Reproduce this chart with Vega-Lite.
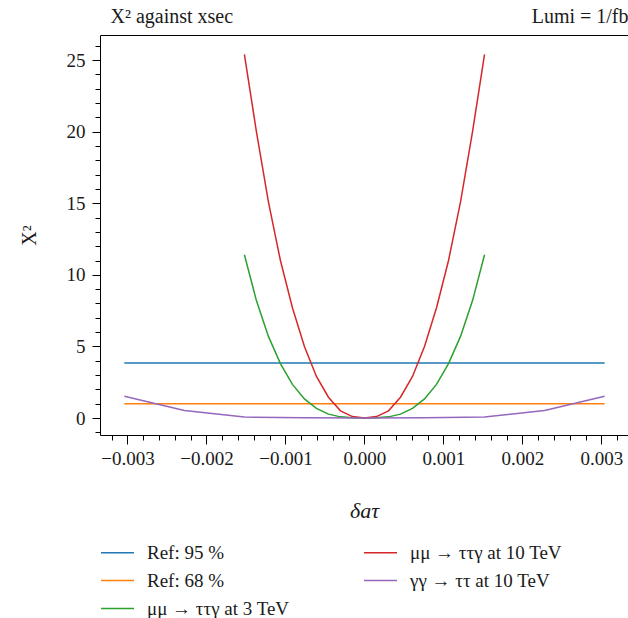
{
  "$schema": "https://vega.github.io/schema/vega-lite/v6.json",
  "width": 528,
  "height": 400,
  "autosize": {"type": "none"},
  "padding": {"left": 100, "top": 35, "right": 0, "bottom": 183},
  "background": "white",
  "config": {
    "font": "Liberation Serif",
    "view": {"stroke": null},
    "axis": {
      "grid": false,
      "domainColor": "#000000",
      "domainWidth": 1,
      "tickColor": "#000000",
      "tickWidth": 1,
      "labelColor": "#1a1a1a",
      "titleColor": "#1a1a1a",
      "labelFont": "Liberation Serif",
      "titleFont": "Liberation Serif",
      "labelFontSize": 19,
      "titleFontSize": 20,
      "titleFontWeight": "normal"
    },
    "legend": {"labelFont": "Liberation Serif", "labelColor": "#1a1a1a"}
  },
  "data": {
    "values": [
      {"series": "Ref: 95 %", "d": -0.00304, "chi2": 3.84},
      {"series": "Ref: 95 %", "d": 0.00304, "chi2": 3.84},
      {"series": "Ref: 68 %", "d": -0.00304, "chi2": 1.0},
      {"series": "Ref: 68 %", "d": 0.00304, "chi2": 1.0},
      {"series": "μμ → ττγ at 3 TeV", "d": -0.00152, "chi2": 11.4},
      {"series": "μμ → ττγ at 3 TeV", "d": -0.001368, "chi2": 8.2},
      {"series": "μμ → ττγ at 3 TeV", "d": -0.001216, "chi2": 5.7},
      {"series": "μμ → ττγ at 3 TeV", "d": -0.001064, "chi2": 3.8},
      {"series": "μμ → ττγ at 3 TeV", "d": -0.000912, "chi2": 2.35},
      {"series": "μμ → ττγ at 3 TeV", "d": -0.00076, "chi2": 1.33},
      {"series": "μμ → ττγ at 3 TeV", "d": -0.000608, "chi2": 0.67},
      {"series": "μμ → ττγ at 3 TeV", "d": -0.000456, "chi2": 0.27},
      {"series": "μμ → ττγ at 3 TeV", "d": -0.000304, "chi2": 0.08},
      {"series": "μμ → ττγ at 3 TeV", "d": -0.000152, "chi2": 0.01},
      {"series": "μμ → ττγ at 3 TeV", "d": 0.0, "chi2": 0.0},
      {"series": "μμ → ττγ at 3 TeV", "d": 0.000152, "chi2": 0.01},
      {"series": "μμ → ττγ at 3 TeV", "d": 0.000304, "chi2": 0.08},
      {"series": "μμ → ττγ at 3 TeV", "d": 0.000456, "chi2": 0.27},
      {"series": "μμ → ττγ at 3 TeV", "d": 0.000608, "chi2": 0.67},
      {"series": "μμ → ττγ at 3 TeV", "d": 0.00076, "chi2": 1.33},
      {"series": "μμ → ττγ at 3 TeV", "d": 0.000912, "chi2": 2.35},
      {"series": "μμ → ττγ at 3 TeV", "d": 0.001064, "chi2": 3.8},
      {"series": "μμ → ττγ at 3 TeV", "d": 0.001216, "chi2": 5.7},
      {"series": "μμ → ττγ at 3 TeV", "d": 0.001368, "chi2": 8.2},
      {"series": "μμ → ττγ at 3 TeV", "d": 0.00152, "chi2": 11.4},
      {"series": "μμ → ττγ at 10 TeV", "d": -0.00152, "chi2": 25.4},
      {"series": "μμ → ττγ at 10 TeV", "d": -0.001368, "chi2": 20.0},
      {"series": "μμ → ττγ at 10 TeV", "d": -0.001216, "chi2": 15.1},
      {"series": "μμ → ττγ at 10 TeV", "d": -0.001064, "chi2": 11.0},
      {"series": "μμ → ττγ at 10 TeV", "d": -0.000912, "chi2": 7.7},
      {"series": "μμ → ττγ at 10 TeV", "d": -0.00076, "chi2": 5.0},
      {"series": "μμ → ττγ at 10 TeV", "d": -0.000608, "chi2": 2.9},
      {"series": "μμ → ττγ at 10 TeV", "d": -0.000456, "chi2": 1.45},
      {"series": "μμ → ττγ at 10 TeV", "d": -0.000304, "chi2": 0.5},
      {"series": "μμ → ττγ at 10 TeV", "d": -0.000152, "chi2": 0.1},
      {"series": "μμ → ττγ at 10 TeV", "d": 0.0, "chi2": 0.0},
      {"series": "μμ → ττγ at 10 TeV", "d": 0.000152, "chi2": 0.1},
      {"series": "μμ → ττγ at 10 TeV", "d": 0.000304, "chi2": 0.5},
      {"series": "μμ → ττγ at 10 TeV", "d": 0.000456, "chi2": 1.45},
      {"series": "μμ → ττγ at 10 TeV", "d": 0.000608, "chi2": 2.9},
      {"series": "μμ → ττγ at 10 TeV", "d": 0.00076, "chi2": 5.0},
      {"series": "μμ → ττγ at 10 TeV", "d": 0.000912, "chi2": 7.7},
      {"series": "μμ → ττγ at 10 TeV", "d": 0.001064, "chi2": 11.0},
      {"series": "μμ → ττγ at 10 TeV", "d": 0.001216, "chi2": 15.1},
      {"series": "μμ → ττγ at 10 TeV", "d": 0.001368, "chi2": 20.0},
      {"series": "μμ → ττγ at 10 TeV", "d": 0.00152, "chi2": 25.4},
      {"series": "γγ → ττ at 10 TeV", "d": -0.00304, "chi2": 1.52},
      {"series": "γγ → ττ at 10 TeV", "d": -0.00228, "chi2": 0.53},
      {"series": "γγ → ττ at 10 TeV", "d": -0.00152, "chi2": 0.07},
      {"series": "γγ → ττ at 10 TeV", "d": -0.00076, "chi2": 0.01},
      {"series": "γγ → ττ at 10 TeV", "d": 0.0, "chi2": 0.0},
      {"series": "γγ → ττ at 10 TeV", "d": 0.00076, "chi2": 0.01},
      {"series": "γγ → ττ at 10 TeV", "d": 0.00152, "chi2": 0.07},
      {"series": "γγ → ττ at 10 TeV", "d": 0.00228, "chi2": 0.53},
      {"series": "γγ → ττ at 10 TeV", "d": 0.00304, "chi2": 1.52}
    ]
  },
  "layer": [
    {
      "mark": {"type": "line", "strokeWidth": 1.5, "clip": false},
      "encoding": {
        "x": {
          "field": "d", "type": "quantitative",
          "scale": {"domain": [-0.003348, 0.003336], "nice": false, "zero": false},
          "axis": {
            "orient": "bottom",
            "values": [-0.003, -0.002, -0.001, 0, 0.001, 0.002, 0.003],
            "format": ".3f",
            "tickSize": 9,
            "labelPadding": 5,
            "title": "δaτ",
            "titleFontSize": 22,
            "titleFontStyle": "italic",
            "titlePadding": 32
          }
        },
        "y": {
          "field": "chi2", "type": "quantitative",
          "scale": {"domain": [-1.187, 26.75], "nice": false, "zero": false},
          "axis": {
            "orient": "left",
            "values": [0, 5, 10, 15, 20, 25],
            "tickSize": 8,
            "labelPadding": 7,
            "title": "X²",
            "titlePadding": 27
          }
        },
        "color": {
          "field": "series", "type": "nominal",
          "scale": {
            "domain": ["Ref: 95 %", "Ref: 68 %", "μμ → ττγ at 3 TeV", "μμ → ττγ at 10 TeV", "γγ → ττ at 10 TeV"],
            "range": ["#1f77b4", "#ff7f0e", "#2ca02c", "#d62728", "#9467bd"]
          },
          "legend": {
            "orient": "none",
            "legendX": 0,
            "legendY": 500,
            "columns": 2,
            "title": null,
            "symbolType": "stroke",
            "symbolSize": 1089,
            "symbolStrokeWidth": 1.5,
            "labelFontSize": 19,
            "labelOffset": 12,
            "rowPadding": -10,
            "columnPadding": 71,
            "labelLimit": 300
          }
        }
      }
    },
    {
      "mark": {"type": "point", "opacity": 0},
      "encoding": {
        "x": {
          "field": "d", "type": "quantitative",
          "axis": {
            "orient": "bottom",
            "values": [-0.0032, -0.0028, -0.0026, -0.0024, -0.0022, -0.0018, -0.0016, -0.0014, -0.0012, -0.0008, -0.0006, -0.0004, -0.0002, 0.0002, 0.0004, 0.0006, 0.0008, 0.0012, 0.0014, 0.0016, 0.0018, 0.0022, 0.0024, 0.0026, 0.0028, 0.0032],
            "labels": false,
            "domain": false,
            "tickSize": 5,
            "title": null
          }
        },
        "y": {
          "field": "chi2", "type": "quantitative",
          "axis": {
            "orient": "left",
            "values": [-1, 1, 2, 3, 4, 6, 7, 8, 9, 11, 12, 13, 14, 16, 17, 18, 19, 21, 22, 23, 24, 26],
            "labels": false,
            "domain": false,
            "tickSize": 5,
            "title": null
          }
        }
      }
    },
    {
      "mark": {"type": "point", "opacity": 0},
      "encoding": {
        "x": {
          "field": "d", "type": "quantitative",
          "axis": {
            "orient": "top",
            "labels": false,
            "ticks": false,
            "domain": true,
            "title": "X² against xsec",
            "titleAnchor": "start",
            "titleAlign": "left",
            "titleX": 10,
            "titleBaseline": "alphabetic",
            "titlePadding": 13,
            "titleFontSize": 20
          }
        }
      }
    },
    {
      "mark": {"type": "point", "opacity": 0},
      "encoding": {
        "x": {
          "field": "d", "type": "quantitative",
          "axis": {
            "orient": "top",
            "labels": false,
            "ticks": false,
            "domain": false,
            "title": "Lumi = 1/fb",
            "titleAnchor": "end",
            "titleBaseline": "alphabetic",
            "titlePadding": 13,
            "titleFontSize": 20
          }
        }
      }
    }
  ],
  "resolve": {"axis": {"x": "independent", "y": "independent"}}
}
